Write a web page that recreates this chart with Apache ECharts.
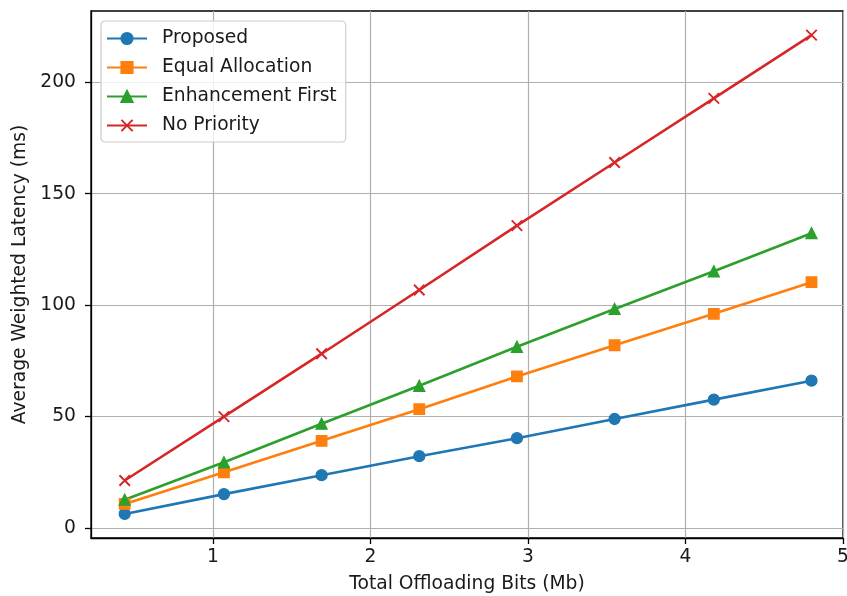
<!DOCTYPE html>
<html>
<head>
<meta charset="utf-8">
<script src="https://cdn.jsdelivr.net/npm/echarts@6/dist/echarts.min.js"></script>
<style>
  html, body { margin: 0; padding: 0; background: #fff; }
  #chart { width: 847px; height: 596px; }
</style>
</head>
<body>
<div id="chart"></div>
<script>
// Total offloading bits (Mb) on the x axis
const bits = [0.44, 1.07, 1.69, 2.31, 2.93, 3.55, 4.18, 4.80];

// Average weighted latency (ms) per scheme
const proposed         = [6.3, 15.2, 23.7, 32.2, 40.3, 48.9, 57.6, 66.1];
const equalAllocation  = [10.8, 25.0, 39.1, 53.3, 68.0, 82.0, 96.1, 110.3];
const enhancementFirst = [12.7, 29.5, 46.8, 63.8, 81.3, 98.3, 115.2, 132.3];
const noPriority       = [21.3, 50.0, 78.2, 106.8, 135.7, 164.0, 192.8, 221.2];

const seriesNames = ['Proposed', 'Equal Allocation', 'Enhancement First', 'No Priority'];
const xTicks = [1, 2, 3, 4, 5];
const yTicks = [0, 50, 100, 150, 200];

const FONT = 'DejaVu Sans';
const FS = 18.7;
const TEXT = '#1a1a1a';
const CROSS = 'path://M0,0L10,10M10,0L0,10';

function pairs(ys) {
  return bits.map((x, i) => [x, ys[i]]);
}

function lineSeries(name, ys, color, symbol, size, extra) {
  return Object.assign({
    name: name,
    type: 'line',
    data: pairs(ys),
    symbol: symbol,
    symbolSize: size,
    showAllSymbol: true,
    lineStyle: { color: color, width: 2.6 },
    itemStyle: { color: color, borderColor: color, borderWidth: 1.3, opacity: 1 },
    emphasis: { disabled: true },
    z: 3
  }, extra || {});
}

function axisCommon(ticks, labelMargin) {
  return {
    axisLine: { show: true, onZero: false, lineStyle: { color: '#000', width: 1.3 } },
    axisTick: {
      show: true, inside: false, length: 6, customValues: ticks,
      lineStyle: { color: '#000', width: 1.3 }
    },
    axisLabel: {
      margin: labelMargin, fontFamily: FONT, fontSize: FS, color: TEXT,
      customValues: ticks, formatter: v => String(v)
    },
    splitLine: { show: true, lineStyle: { color: '#b0b0b0', width: 1.2 } },
    nameTextStyle: { fontFamily: FONT, fontSize: FS, color: TEXT }
  };
}

const chart = echarts.init(document.getElementById('chart'), null, { renderer: 'canvas' });

chart.setOption({
  animation: false,
  backgroundColor: '#fff',
  textStyle: { fontFamily: FONT, color: TEXT },
  grid: {
    left: 91, right: 4, top: 11, bottom: 58,
    containLabel: false,
    outerBoundsMode: 'none',
    show: true, borderColor: '#000', borderWidth: 1.3,
    backgroundColor: 'transparent'
  },
  legend: {
    orient: 'vertical',
    left: 101, top: 21,
    data: seriesNames,
    itemWidth: 40, itemHeight: 14, itemGap: 10,
    padding: [8, 9, 7, 5],
    backgroundColor: 'rgba(255,255,255,0.8)',
    borderColor: '#cccccc', borderWidth: 1.2, borderRadius: 4,
    selectedMode: false,
    textStyle: { fontFamily: FONT, fontSize: FS, color: TEXT, padding: [0, 0, 0, 10], lineHeight: 18 },
    z: 10
  },
  xAxis: Object.assign(axisCommon(xTicks, 10), {
    type: 'value',
    min: 0.226, max: 5.0,
    name: 'Total Offloading Bits (Mb)',
    nameLocation: 'middle',
    nameGap: 37
  }),
  yAxis: Object.assign(axisCommon(yTicks, 15), {
    type: 'value',
    min: -4.5, max: 232,
    name: 'Average Weighted Latency (ms)',
    nameLocation: 'middle',
    nameGap: 59
  }),
  series: [
    lineSeries(seriesNames[0], proposed, '#1f77b4', 'circle', 11),
    lineSeries(seriesNames[1], equalAllocation, '#ff7f0e', 'rect', 10.5),
    lineSeries(seriesNames[2], enhancementFirst, '#2ca02c', 'triangle', 11),
    lineSeries(seriesNames[3], noPriority, '#d62728', CROSS, 10.5, {
      itemStyle: { color: '#d62728', borderColor: '#d62728', borderWidth: 1.9, opacity: 1 }
    })
  ]
});
</script>
</body>
</html>
